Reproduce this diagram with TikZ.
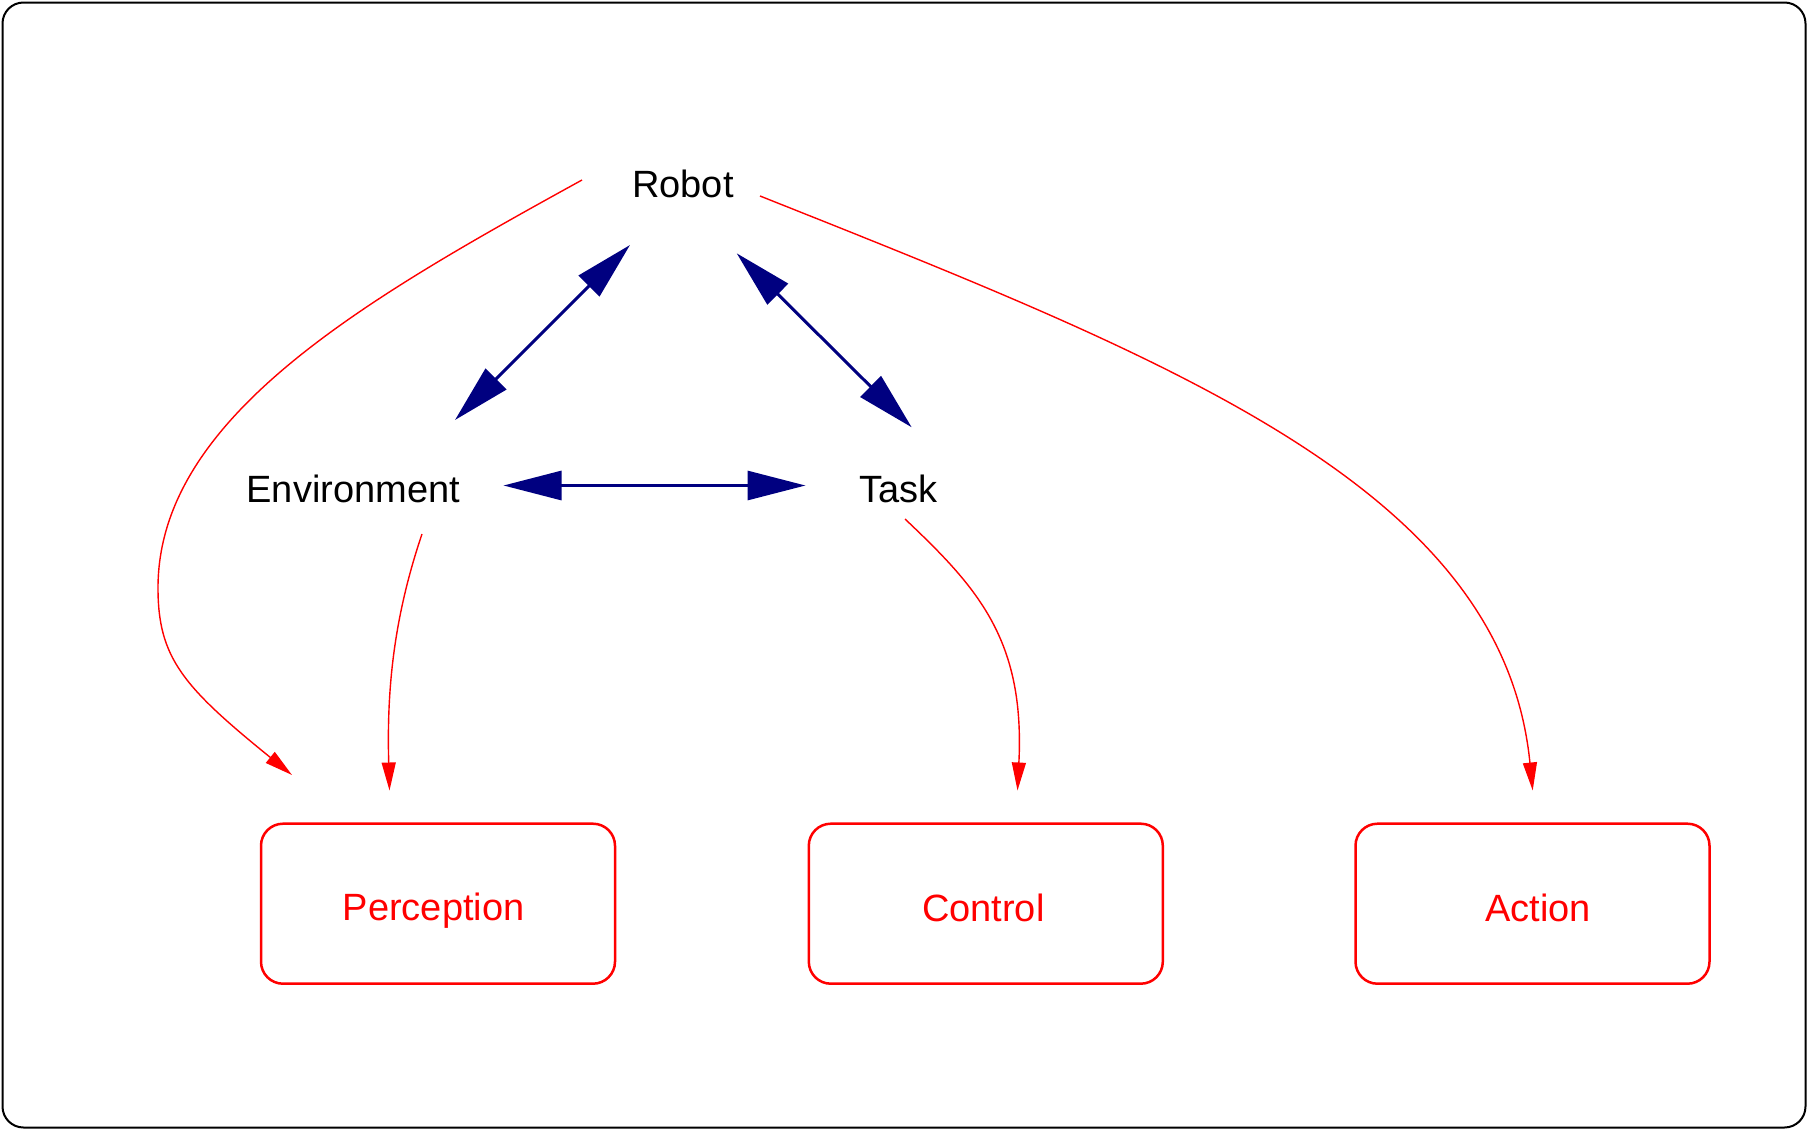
\documentclass[tikz,border=0pt]{standalone}
\usepackage{fontspec}
\setmainfont{Liberation Sans}
\usetikzlibrary{arrows.meta}
\definecolor{linkblue}{rgb}{0,0,0.5}
\definecolor{flowred}{rgb}{1,0,0}

\begin{document}
\begin{tikzpicture}[x=1pt,y=-1pt,
  tlabel/.style={font=\fontsize{38}{46}\selectfont, inner sep=0pt, anchor=base},
  entity/.style={tlabel, text=black},
  stagetext/.style={tlabel, text=flowred},
  stagebox/.style={draw=flowred, line width=2.5pt, rounded corners=22pt,
    minimum width=354pt, minimum height=160pt, inner sep=0pt},
  relation/.style={draw=linkblue, line width=3pt,
    {Triangle[length=58pt,width=29pt]}-{Triangle[length=58pt,width=29pt]}},
  flow/.style={draw=flowred, line width=1.4pt, -{Triangle[length=28pt,width=14pt]}}
]
\useasboundingbox (0,0) rectangle (1808,1130);

% outer frame
\draw[line width=2pt, rounded corners=21pt] (2.5,2.5) rectangle (1805.5,1127.5);

% entities
\node[entity] (robot) at (683,197) {Robot};
\node[entity] (env) at (353.3,502.5) {Environment};
\node[entity] (task) at (898.3,502.7) {Task};

% processing stages
\node[stagebox] (percbox) at (438,903.7) {};
\node[stagebox] (ctrlbox) at (985.8,903.7) {};
\node[stagebox] (actbox) at (1532.5,903.7) {};
\node[stagetext] (perc) at (433.7,920.8) {Perception};
\node[stagetext] (ctrl) at (983.3,921.5) {Control};
\node[stagetext] (act) at (1538,921.5) {Action};

% attachment points of the relations
\coordinate (r-e) at (630,245);
\coordinate (e-r) at (455,420);
\coordinate (r-t) at (736.7,253.3);
\coordinate (t-r) at (911.7,427.3);
\coordinate (e-t) at (503.5,485.5);
\coordinate (t-e) at (805.5,485.5);

% attachment points of the flows
\coordinate (r-p) at (582,180);
\coordinate (p-r) at (292,775);
\coordinate (e-p) at (422,534);
\coordinate (p-e) at (389.5,790.5);
\coordinate (t-c) at (905,519);
\coordinate (c-t) at (1017.5,790.5);
\coordinate (r-a) at (760,196);
\coordinate (a-r) at (1532.7,790.5);

% mutual relations
\draw[relation] (r-e) -- (e-r);
\draw[relation] (r-t) -- (t-r);
\draw[relation] (e-t) -- (t-e);

% flows into the stages
\draw[flow] (r-p) .. controls (363,300.5) and (158,418) .. (158,588)
  .. controls (158,658) and (183.2,686.8) .. (p-r);
\draw[flow] (e-p) .. controls (393.2,619.2) and (386.7,691) .. (p-e);
\draw[flow] (t-c) .. controls (978,588) and (1025,640) .. (c-t);
\draw[flow] (r-a) .. controls (1178.5,362.5) and (1502.7,490) .. (a-r);
\end{tikzpicture}
\end{document}
